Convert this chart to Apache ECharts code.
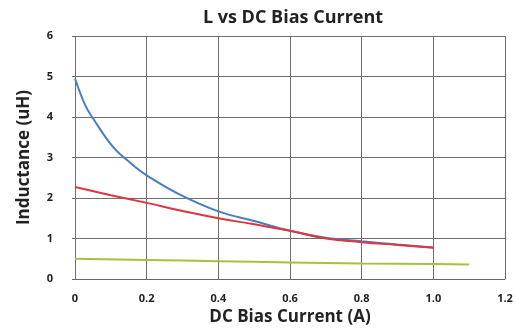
<!DOCTYPE html>
<html><head><meta charset="utf-8">
<script src="https://cdn.jsdelivr.net/npm/echarts@6/dist/echarts.min.js"></script>
<style>html,body{margin:0;padding:0;background:#fff}#c{width:516px;height:336px}</style>
</head><body><div id="c"></div>
<script>
const blueSeries = [[0,4.95],[0.028,4.3],[0.05,3.97],[0.106,3.26],[0.15,2.9],[0.2,2.56],[0.3,2.05],[0.4,1.67],[0.5,1.43],[0.6,1.19],[0.7,1.02],[0.8,0.93],[0.9,0.85],[1.0,0.78]];
const redSeries = [[0,2.27],[0.1,2.07],[0.2,1.88],[0.3,1.68],[0.4,1.5],[0.5,1.35],[0.6,1.19],[0.7,1.0],[0.8,0.91],[0.9,0.84],[1.0,0.77]];
const greenSeries = [[0,0.5],[0.2,0.47],[0.4,0.44],[0.6,0.41],[0.8,0.38],[1.0,0.37],[1.1,0.36]];
const xTicks = ['0','0.2','0.4','0.6','0.8','1.0','1.2'];
const chart = echarts.init(document.getElementById('c'));
const font = '"Open Sans", "DejaVu Sans", sans-serif';
chart.setOption({
  animation:false,
  title:{text:'L vs DC Bias Current',left:288,top:4,textAlign:'center',textStyle:{fontFamily:font,fontWeight:'bold',fontSize:18,color:'#222'}},
  grid:{left:75,right:11,top:36,bottom:57},
  xAxis:{type:'value',min:0,max:1.2,interval:0.2,
    name:'DC Bias Current (A)',nameLocation:'middle',nameGap:29,
    nameTextStyle:{fontFamily:font,fontWeight:'bold',fontSize:17,color:'#222'},
    axisLine:{show:true,lineStyle:{color:'#666'}},axisTick:{show:false},
    axisLabel:{fontFamily:font,fontWeight:'bold',fontSize:11,color:'#222',margin:14,
      formatter:(v)=>xTicks[Math.round(v/0.2)]},
    splitLine:{show:true,lineStyle:{color:'#6e6e6e',width:1}}},
  yAxis:{type:'value',min:0,max:6,interval:1,
    name:'Inductance (uH)',nameLocation:'middle',nameGap:42,nameRotate:90,
    nameTextStyle:{fontFamily:font,fontWeight:'bold',fontSize:17,color:'#222'},
    axisLine:{show:false},axisTick:{show:true,length:3,lineStyle:{color:'#666'}},
    axisLabel:{fontFamily:font,fontWeight:'bold',fontSize:11,color:'#222',margin:22},
    splitLine:{show:true,lineStyle:{color:'#6e6e6e',width:1}}},
  series:[
    {type:'line',data:greenSeries,smooth:true,symbol:'none',lineStyle:{color:'#a5c23c',width:2}},
    {type:'line',data:blueSeries,smooth:0.4,symbol:'none',lineStyle:{color:'#4a7ebf',width:2}},
    {type:'line',data:redSeries,smooth:true,symbol:'none',lineStyle:{color:'#de3640',width:2}}
  ]
});
</script></body></html>
